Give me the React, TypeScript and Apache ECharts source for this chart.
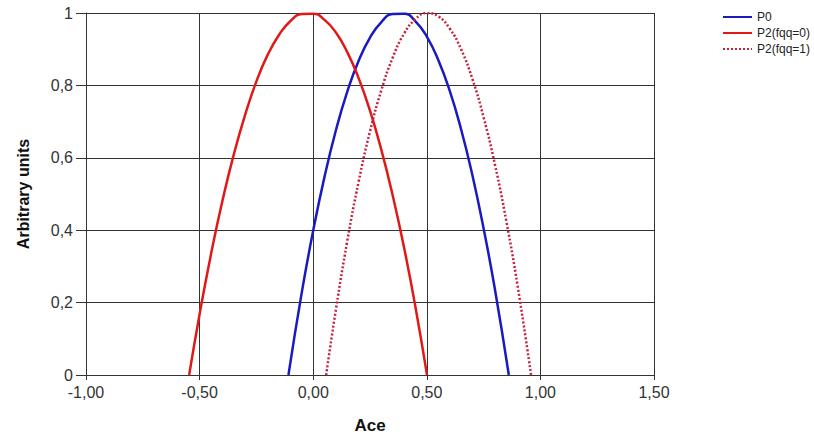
import React, { useEffect, useRef } from "react";
import * as echarts from "echarts";

// X ticks / Y ticks
const xTicks = [-1, -0.5, 0, 0.5, 1, 1.5];
const yTicks = [0, 0.2, 0.4, 0.6, 0.8, 1];

const seriesNames = ["P0", "P2(fqq=0)", "P2(fqq=1)"];

// P0 (blue)
const p0X = [-0.109, -0.05, 0, 0.05, 0.1, 0.15, 0.2, 0.25, 0.3, 0.35, 0.4, 0.45, 0.5, 0.55, 0.6, 0.65, 0.7, 0.75, 0.8, 0.861];
const p0Y = [0, 0.229, 0.399, 0.548, 0.676, 0.783, 0.868, 0.932, 0.975, 0.997, 0.998, 0.977, 0.935, 0.871, 0.787, 0.681, 0.554, 0.405, 0.236, 0];

// P2(fqq=0) (red solid)
const p2aX = [-0.546, -0.5, -0.45, -0.4, -0.35, -0.3, -0.25, -0.2, -0.15, -0.1, -0.05, 0, 0.05, 0.1, 0.15, 0.2, 0.25, 0.3, 0.35, 0.4, 0.45, 0.501];
const p2aY = [0, 0.168, 0.333, 0.48, 0.608, 0.718, 0.811, 0.885, 0.94, 0.978, 0.997, 0.998, 0.981, 0.946, 0.892, 0.82, 0.73, 0.622, 0.496, 0.352, 0.188, 0];

// P2(fqq=1) (red dotted)
const p2bX = [0.057, 0.1, 0.15, 0.2, 0.25, 0.3, 0.35, 0.4, 0.45, 0.5, 0.55, 0.6, 0.65, 0.7, 0.75, 0.8, 0.85, 0.9, 0.959];
const p2bY = [0, 0.181, 0.37, 0.534, 0.673, 0.787, 0.877, 0.943, 0.983, 1, 0.991, 0.958, 0.901, 0.819, 0.712, 0.581, 0.425, 0.245, 0];

const zip = (xs: number[], ys: number[]) => xs.map((x, i) => [x, ys[i]]);

const fmtX = (v: number) => v.toFixed(2).replace(".", ",");
const fmtY = (v: number) => (Math.round(v * 10) / 10).toString().replace(".", ",");

export default function App() {
  const ref = useRef<HTMLDivElement>(null);
  useEffect(() => {
    if (!ref.current) return;
    const chart = echarts.init(ref.current, null, { renderer: "svg" });
    const font = "Liberation Sans, Arial, sans-serif";
    const gridColor = "#333";
    chart.setOption({
      animation: false,
      backgroundColor: "#fff",
      textStyle: { fontFamily: font },
      grid: { left: 86, right: 160, top: 13, bottom: 60, containLabel: false },
      legend: {
        orient: "vertical",
        left: 717,
        top: 6,
        itemWidth: 29,
        itemHeight: 14,
        itemGap: 4,
        itemStyle: { opacity: 0, borderWidth: 0 },
        textStyle: { fontFamily: font, fontSize: 12, color: "#222" },
        data: seriesNames,
      },
      xAxis: {
        type: "value",
        min: xTicks[0],
        max: xTicks[xTicks.length - 1],
        interval: 0.5,
        name: "Ace",
        nameLocation: "middle",
        nameGap: 42,
        nameTextStyle: { fontFamily: font, fontSize: 17, fontWeight: "bold", color: "#111" },
        axisLine: { show: true, onZero: false, lineStyle: { color: gridColor, width: 1 } },
        axisTick: { show: true, length: 5, lineStyle: { color: gridColor } },
        axisLabel: { fontFamily: font, fontSize: 16, color: "#333", margin: 9, formatter: fmtX },
        splitLine: { show: true, lineStyle: { color: gridColor, width: 1 } },
      },
      yAxis: {
        type: "value",
        min: yTicks[0],
        max: yTicks[yTicks.length - 1],
        interval: 0.2,
        name: "Arbitrary units",
        nameLocation: "middle",
        nameGap: 55,
        nameTextStyle: { fontFamily: font, fontSize: 16, fontWeight: "bold", color: "#111" },
        axisLine: { show: true, onZero: false, lineStyle: { color: gridColor, width: 1 } },
        axisTick: { show: true, length: 10, lineStyle: { color: gridColor } },
        axisLabel: { fontFamily: font, fontSize: 16, color: "#333", margin: 13, formatter: fmtY },
        splitLine: { show: true, lineStyle: { color: gridColor, width: 1 } },
      },
      series: [
        {
          name: seriesNames[0],
          type: "line",
          data: zip(p0X, p0Y),
          smooth: 0.5,
          symbol: "none",
          color: "#1a1abf",
          lineStyle: { color: "#1a1abf", width: 2.5 },
        },
        {
          name: seriesNames[1],
          type: "line",
          data: zip(p2aX, p2aY),
          smooth: 0.5,
          symbol: "none",
          color: "#e01818",
          lineStyle: { color: "#e01818", width: 2.5 },
        },
        {
          name: seriesNames[2],
          type: "line",
          data: zip(p2bX, p2bY),
          smooth: 0.5,
          symbol: "none",
          color: "#c8203a",
          lineStyle: { color: "#c8203a", width: 2.5, type: [2, 2] },
        },
      ],
    });
    return () => chart.dispose();
  }, []);
  return (
    <div
      ref={ref}
      style={{ position: "fixed", left: 0, top: 0, width: 814, height: 439, background: "#fff" }}
    />
  );
}
